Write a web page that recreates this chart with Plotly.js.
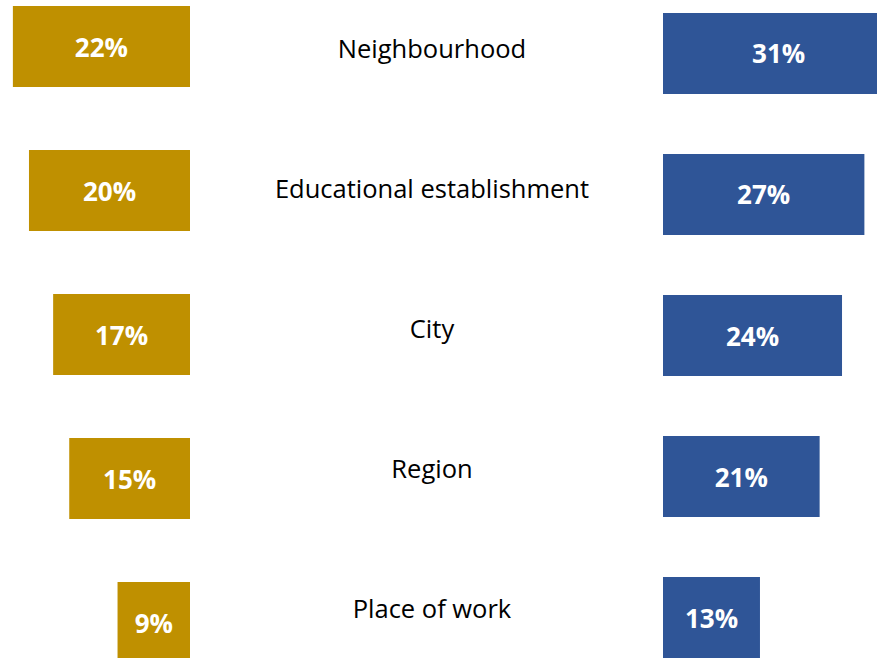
<!DOCTYPE html>
<html>
<head>
<meta charset="utf-8">
<script src="https://cdn.plot.ly/plotly-3.0.1.min.js"></script>
<style>html,body{margin:0;padding:0;background:#fff;}#chart{width:877px;height:658px;}</style>
</head>
<body>
<div id="chart"></div>
<script>
const categories = ["Neighbourhood", "Educational establishment", "City", "Region", "Place of work"];
const leftValues = [22, 20, 17, 15, 9];
const rightValues = [31, 27, 24, 21, 13];
const labelPos = [0, 1, 2, 3, 4];

const GOLD = "#BF9000";
const BLUE = "#2F5597";
const pct = v => v + "%";

const traces = [
  {
    type: "bar", orientation: "h",
    x: leftValues, y: labelPos,
    xaxis: "x", yaxis: "y",
    marker: {color: GOLD},
    width: 0.5625,
    text: leftValues.map(pct),
    textposition: "inside", insidetextanchor: "middle",
    constraintext: "none",
    textfont: {family: "Open Sans", size: 26, color: "#fff", weight: "bold"},
    hoverinfo: "skip", showlegend: false
  },
  {
    type: "bar", orientation: "h",
    x: rightValues, y: labelPos,
    xaxis: "x2", yaxis: "y2",
    marker: {color: BLUE},
    width: 0.574,
    text: rightValues.map(pct),
    textposition: "inside", insidetextanchor: "middle",
    constraintext: "none", cliponaxis: true,
    textfont: {family: "Open Sans", size: 26, color: "#fff", weight: "bold"},
    hoverinfo: "skip", showlegend: false
  },
  {
    type: "scatter", mode: "text",
    x: categories.map(() => 0), y: labelPos,
    xaxis: "x3", yaxis: "y3",
    text: categories,
    textposition: "middle center",
    textfont: {family: "Open Sans", size: 25.5, color: "#000"},
    hoverinfo: "skip", showlegend: false, cliponaxis: false
  }
];

const hidden = {visible: true, showgrid: false, zeroline: false, showticklabels: false, ticks: "", showline: false, fixedrange: true};

const layout = {
  width: 877, height: 658,
  margin: {l: 0, r: 0, t: 0, b: 0, pad: 0},
  paper_bgcolor: "#fff", plot_bgcolor: "rgba(0,0,0,0)",
  showlegend: false,
  xaxis: Object.assign({}, hidden, {domain: [0, 190/877], range: [23.6, 0]}),
  yaxis: Object.assign({}, hidden, {range: [4.2465, -0.3229]}),
  xaxis2: Object.assign({}, hidden, {domain: [663/877, 1], range: [0, 28.69], anchor: "y2"}),
  yaxis2: Object.assign({}, hidden, {range: [4.2864, -0.3786], anchor: "x2"}),
  xaxis3: Object.assign({}, hidden, {domain: [0, 1], range: [-432/877, 445/877], anchor: "y3"}),
  yaxis3: Object.assign({}, hidden, {range: [(658-52)/140, -52/140], anchor: "x3"})
};

Plotly.newPlot("chart", traces, layout, {staticPlot: true, displayModeBar: false});
</script>
</body>
</html>
